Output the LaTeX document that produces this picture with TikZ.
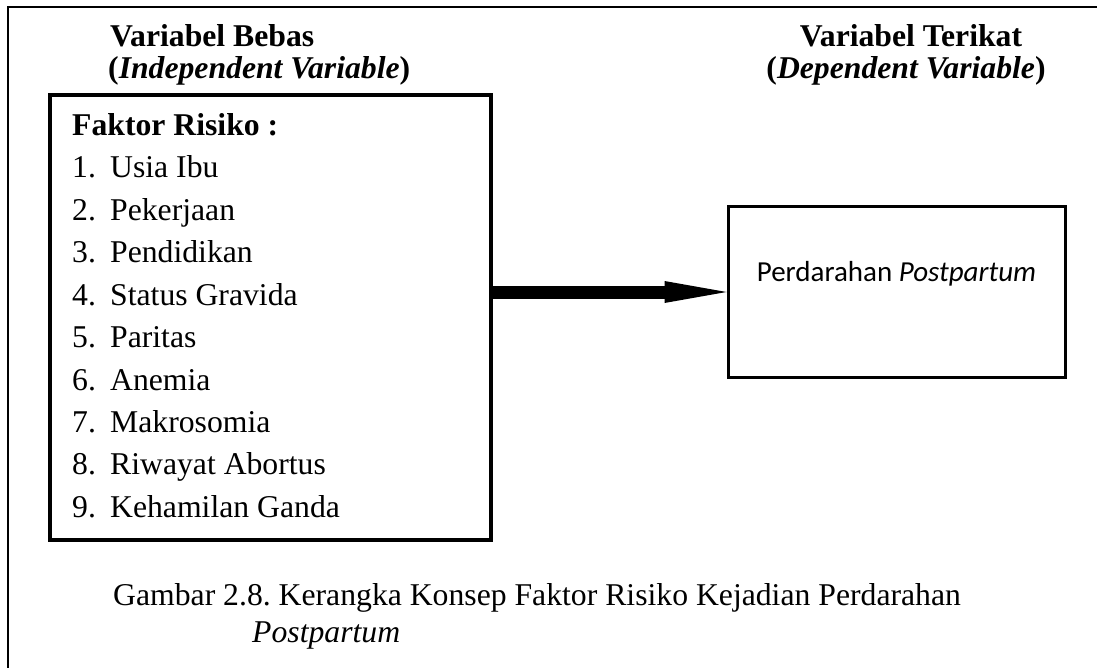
\documentclass[tikz,border=0pt]{standalone}
\usepackage{fontspec}
\setmainfont{Liberation Serif}
\newfontfamily\calibri{Carlito}
\usepackage{tikz}
\usetikzlibrary{arrows.meta}
\usetikzlibrary{positioning}
\frenchspacing

\begin{document}
\begin{tikzpicture}[x = 1pt, y = -1pt,
kotak/.style={draw, rectangle, inner sep = 0pt},
teks/.style={anchor = base west, inner sep = 0pt, font = \fontsize{31.7}{37}\selectfont},
judul/.style={anchor = base, inner sep = 0pt, font = \fontsize{31.7}{37}\selectfont\bfseries}]
\useasboundingbox (0,0) rectangle (1097,668);
\draw[line width = 2pt] (1097,7.5) -- (7.5,7.5) -- (7.5,668);
\node[judul, anchor = base west] (jb1) at (110,47) {Variabel Bebas};
\node[judul, anchor = base west] (jb2) at (108,79) {(\textit{Independent Variable})};
\node[judul] (jt1) at (911,47) {Variabel Terikat};
\node[judul] (jt2) at (906,79) {(\textit{Dependent Variable})};
\node[kotak, line width = 3.5pt, minimum width = 441pt, minimum height = 445pt] (bebas) at (270.5,317.5) {};
\node[teks, font = \fontsize{31.7}{37}\selectfont\bfseries] (faktor) at (72,135.6) {Faktor Risiko :};
\node[teks] (f1) at (72,178) {\makebox[38pt][l]{1.}Usia Ibu};
\node[teks] (f2) at (72,220.4) {\makebox[38pt][l]{2.}Pekerjaan};
\node[teks] (f3) at (72,262.8) {\makebox[38pt][l]{3.}Pendidikan};
\node[teks] (f4) at (72,305.2) {\makebox[38pt][l]{4.}Status Gravida};
\node[teks] (f5) at (72,347.6) {\makebox[38pt][l]{5.}Paritas};
\node[teks] (f6) at (72,390) {\makebox[38pt][l]{6.}Anemia};
\node[teks] (f7) at (72,432.4) {\makebox[38pt][l]{7.}Makrosomia};
\node[teks] (f8) at (72,474.8) {\makebox[38pt][l]{8.}Riwayat Abortus};
\node[teks] (f9) at (72,517.2) {\makebox[38pt][l]{9.}Kehamilan Ganda};
\node[kotak, line width = 3pt, minimum width = 337pt, minimum height = 170pt] (terikat) at (896.5,292) {};
\node[anchor = base, inner sep = 0pt, font = \fontsize{29}{34}\calibri] (hasil) at (896.5,282) {Perdarahan \textit{Postpartum}};
\draw[line width = 13pt, -{Triangle[length = 62pt, width = 22pt, line width = 0pt]}] (terikat.west -| bebas.east) -- (terikat.west);
\node[teks] (cap1) at (113,605) {Gambar 2.8. Kerangka Konsep Faktor Risiko Kejadian Perdarahan};
\node[teks] (cap2) at (252,642) {\textit{Postpartum}};
\end{tikzpicture}
\end{document}
